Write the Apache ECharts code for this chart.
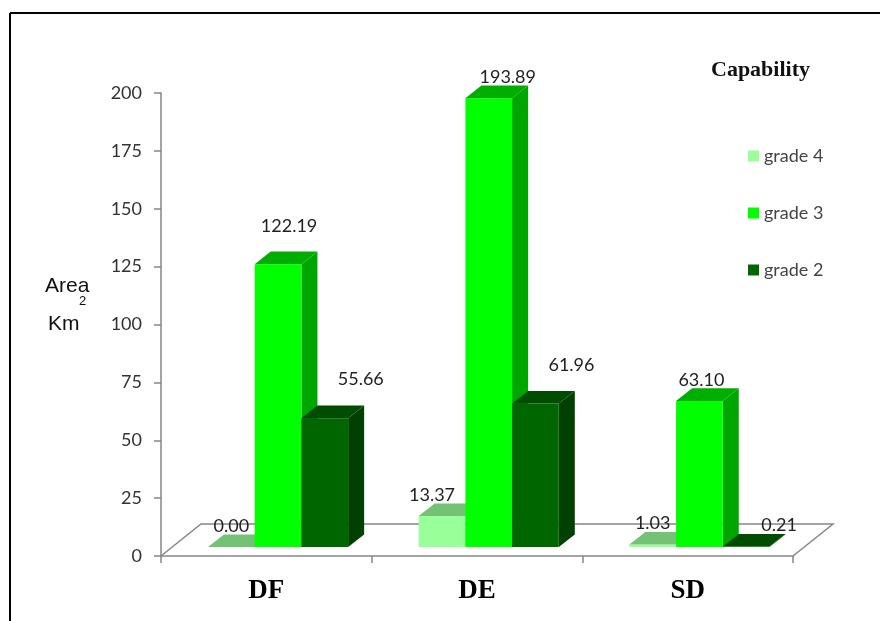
<!DOCTYPE html>
<html>
<head>
<meta charset="utf-8">
<style>html,body{margin:0;padding:0;background:#fff}#c{width:880px;height:621px}</style>
<script src="https://cdn.jsdelivr.net/npm/echarts@6/dist/echarts.min.js"></script>
</head>
<body>
<div id="c"></div>
<script>
const categories = ['DF', 'DE', 'SD'];
const yTicksMax = 200;
const yTickStep = 25;
const grade4 = [0.00, 13.37, 1.03];
const grade3 = [122.19, 193.89, 63.10];
const grade2 = [55.66, 61.96, 0.21];
const gradeNames = ['grade 4', 'grade 3', 'grade 2'];
const gradeValues = [grade4, grade3, grade2];

const faceColors = ['#99FF99', '#00FF00', '#006600'];
const topColors = ['#74C274', '#00AE00', '#004C00'];
const sideColors = ['#74C274', '#00A600', '#004000'];
const labelNudge = [
  [[0, -21], [11, -38], [36, -39]],
  [[-10, -21], [19, -21], [36, -38]],
  [[0, -21], [2, -21], [33, -21]]
];

const BAR_W = 46.7, DX = 16, DY = 12.6, SHIFT_X = 11.75, SHIFT_Y = 9;
const FLOOR_DX = 40, FLOOR_DY = 32;
const NUM_FONT = 'Lato';
const SERIF = '"Liberation Serif"';

function barPos(api, g) {
  const cat = api.value(0), val = api.value(1);
  const base = api.coord([cat, 0]), top = api.coord([cat, val]);
  const x = base[0] + SHIFT_X + (g - 1.5) * BAR_W;
  return { x, w: BAR_W, y0: base[1] - SHIFT_Y, y1: top[1] - SHIFT_Y };
}
function poly(points, fill) {
  return { type: 'polygon', shape: { points }, style: { fill, stroke: null }, silent: true };
}
function renderBar(g) {
  return function (params, api) {
    const b = barPos(api, g);
    return {
      type: 'group',
      children: [
        poly([[b.x + b.w, b.y0], [b.x + b.w + DX, b.y0 - DY], [b.x + b.w + DX, b.y1 - DY], [b.x + b.w, b.y1]], sideColors[g]),
        { type: 'rect', shape: { x: b.x, y: b.y1, width: b.w, height: b.y0 - b.y1 }, style: { fill: faceColors[g] }, silent: true },
        poly([[b.x, b.y1], [b.x + DX, b.y1 - DY], [b.x + b.w + DX, b.y1 - DY], [b.x + b.w, b.y1]], topColors[g])
      ]
    };
  };
}
function renderLabel(g) {
  return function (params, api) {
    const b = barPos(api, g);
    const n = labelNudge[api.value(0)][g];
    return {
      type: 'text',
      z2: 100,
      silent: true,
      style: {
        x: b.x + b.w / 2 + n[0], y: b.y1 + n[1],
        text: api.value(1).toFixed(2), align: 'center', verticalAlign: 'middle',
        fill: '#222', font: '18px ' + NUM_FONT
      }
    };
  };
}
function renderFloor(params) {
  const c = params.coordSys;
  const L = c.x, R = c.x + c.width, B = c.y + c.height;
  return {
    type: 'polyline', silent: true,
    shape: { points: [[L, B], [L + FLOOR_DX, B - FLOOR_DY], [R + FLOOR_DX, B - FLOOR_DY], [R, B]] },
    style: { stroke: '#868686', lineWidth: 1.5, fill: null }
  };
}
const pairs = vals => vals.map((v, i) => [i, v]);

const series = [{
  type: 'custom', name: 'floor', z: 1, silent: true, renderItem: renderFloor, data: [[0, 0]],
  encode: { x: 0, y: 1 }, clip: false, tooltip: { show: false }
}];
gradeNames.forEach((name, g) => series.push({
  type: 'custom', name, z: 2 + g, renderItem: renderBar(g), data: pairs(gradeValues[g]),
  encode: { x: 0, y: 1 }, clip: false, itemStyle: { color: faceColors[g] }
}));
gradeNames.forEach((name, g) => series.push({
  type: 'custom', name: name + ' values', z: 10, silent: true, renderItem: renderLabel(g), data: pairs(gradeValues[g]),
  encode: { x: 0, y: 1 }, clip: false
}));

const chart = echarts.init(document.getElementById('c'), null, { renderer: 'canvas' });
chart.setOption({
  animation: false,
  backgroundColor: '#fff',
  grid: { left: 161, top: 93, width: 632, height: 463, containLabel: false },
  title: {
    text: 'Capability', left: 706, top: 54,
    textStyle: { fontFamily: SERIF, fontWeight: 'bold', fontSize: 22, color: '#111' }
  },
  legend: {
    orient: 'vertical', left: 743, top: 142, itemWidth: 11, itemHeight: 11, itemGap: 39,
    icon: 'rect', data: gradeNames, selectedMode: false,
    textStyle: { fontFamily: NUM_FONT, fontSize: 18, color: '#444' }
  },
  xAxis: {
    type: 'category', data: categories, boundaryGap: true,
    axisLine: { show: true, lineStyle: { color: '#868686', width: 1.5 } },
    axisTick: { show: true, alignWithLabel: false, length: 7, lineStyle: { color: '#868686', width: 1.5 } },
    axisLabel: { fontFamily: SERIF, fontWeight: 'bold', fontSize: 27, color: '#000', margin: 22 },
    splitLine: { show: false }
  },
  yAxis: {
    type: 'value', min: 0, max: yTicksMax, interval: yTickStep,
    axisLine: { show: true, lineStyle: { color: '#868686', width: 1.5 } },
    axisTick: { show: true, length: 7, lineStyle: { color: '#868686', width: 1.5 } },
    axisLabel: { fontFamily: NUM_FONT, fontSize: 18, color: '#333', margin: 19 },
    splitLine: { show: false }
  },
  graphic: [
    { type: 'line', shape: { x1: 10, y1: 13, x2: 880, y2: 13 }, style: { stroke: '#000', lineWidth: 2 }, silent: true },
    { type: 'line', shape: { x1: 10, y1: 13, x2: 10, y2: 621 }, style: { stroke: '#000', lineWidth: 2 }, silent: true },
    { type: 'text', left: 45, top: 276, style: { text: 'Area', font: '21px "Liberation Sans"', fill: '#111' }, silent: true },
    { type: 'text', left: 79, top: 295, style: { text: '2', font: '13px "Liberation Sans"', fill: '#111' }, silent: true },
    { type: 'text', left: 48, top: 314, style: { text: 'Km', font: '21px "Liberation Sans"', fill: '#111' }, silent: true }
  ],
  series
});
</script>
</body>
</html>
